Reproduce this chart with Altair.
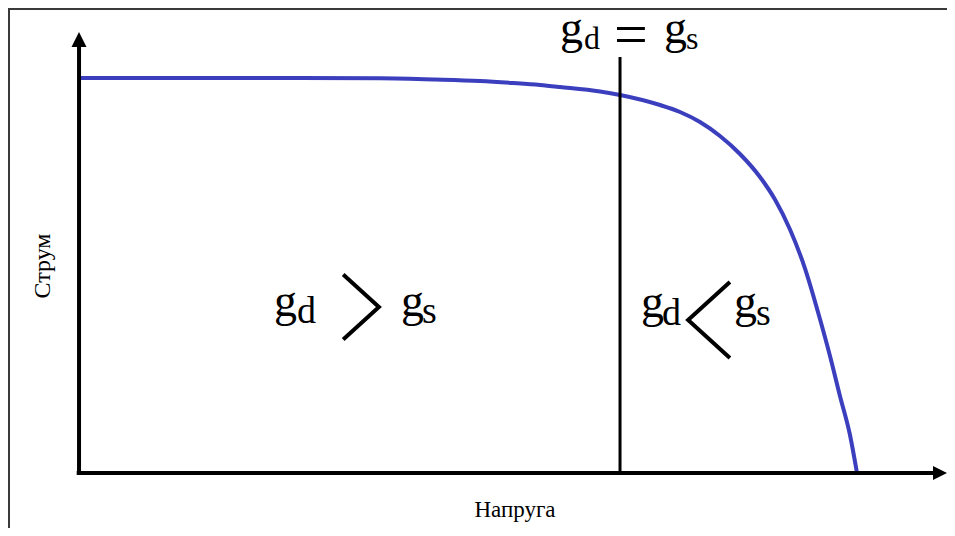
import altair as alt
import pandas as pd

# I-V curve (normalised voltage, normalised current)
volt = [0.0, 0.2841, 0.3869, 0.4576, 0.5154, 0.5578, 0.5925, 0.6183, 0.6697,
        0.6954, 0.7468, 0.7725, 0.7982, 0.8239, 0.8496, 0.8753, 0.8946, 0.9139,
        0.9332, 0.9524, 0.9653, 0.9781, 0.9910, 1.0]
curr = [1.0, 1.0, 0.9992, 0.9962, 0.9924, 0.9873, 0.9823, 0.9772, 0.9658,
        0.9570, 0.9316, 0.9139, 0.8886, 0.8532, 0.8076, 0.7494, 0.6924, 0.6165,
        0.5177, 0.3899, 0.2962, 0.1949, 0.0962, 0.0]

# operating point where gd = gs
v_mark = 0.6954
i_mark_top = 1.0532

# axis extents (arrow tips)
x_tip = 1.1157
y_tip = 1.1165

# labels
lbl_text = ["g", "d", "=", "g", "s",
            "g", "d", "g", "s",
            "g", "d", "g", "s"]
lbl_v = [0.6183, 0.6491, 0.7095, 0.7519, 0.7802,
         0.2506, 0.2802, 0.4139, 0.4409,
         0.7224, 0.7494, 0.8419, 0.8702]
lbl_i = [1.0886, 1.0734, 1.0608, 1.0886, 1.0734,
         0.3975, 0.3797, 0.3975, 0.3797,
         0.3949, 0.3747, 0.3949, 0.3747]
lbl_size = [46, 32, 60, 46, 32,
            46, 38, 46, 38,
            46, 38, 46, 38]
lbl_align = ["left", "left", "center", "left", "left",
             "left", "left", "left", "left",
             "left", "left", "left", "left"]

# comparison signs (> and <) drawn as open chevrons
cmp_dir = ["gt", "lt"]
cmp_v = [0.3625, 0.8098]
cmp_i = [0.4203, 0.3873]

xs = alt.Scale(domain=[-0.0913, 1.1157], nice=False, zero=False)
ys = alt.Scale(domain=[-0.1392, 1.1772], nice=False, zero=False)

W, H = 939, 520

curve_df = pd.DataFrame({"v": volt, "i": curr})
lbl_df = pd.DataFrame({"t": lbl_text, "v": lbl_v, "i": lbl_i, "s": lbl_size, "a": lbl_align})
cmp_df = pd.DataFrame({"d": cmp_dir, "v": cmp_v, "i": cmp_i})

frame_top = alt.Chart(pd.DataFrame({"k": [0]})).mark_rule(color="#3a3a3a", strokeWidth=2).encode(
    x=alt.value(0), x2=alt.value(W), y=alt.value(1))
frame_left = alt.Chart(pd.DataFrame({"k": [0]})).mark_rule(color="#3a3a3a", strokeWidth=2).encode(
    x=alt.value(1), y=alt.value(0), y2=alt.value(H))

xaxis = alt.Chart(pd.DataFrame({"v": [-0.003], "v2": [x_tip - 0.010], "i": [0.0]})).mark_rule(
    color="black", strokeWidth=4).encode(
    x=alt.X("v:Q", scale=xs, axis=None), x2="v2:Q", y=alt.Y("i:Q", scale=ys, axis=None))
yaxis = alt.Chart(pd.DataFrame({"v": [0.0], "i": [-0.005], "i2": [y_tip - 0.02]})).mark_rule(
    color="black", strokeWidth=4).encode(
    x=alt.X("v:Q", scale=xs, axis=None), y=alt.Y("i:Q", scale=ys, axis=None), y2="i2:Q")

xarrow = alt.Chart(pd.DataFrame({"v": [x_tip], "i": [0.0]})).mark_point(
    shape="M0,0L-1,-0.5L-1,0.5Z", filled=True, color="black", opacity=1, size=784).encode(
    x=alt.X("v:Q", scale=xs, axis=None), y=alt.Y("i:Q", scale=ys, axis=None))
yarrow = alt.Chart(pd.DataFrame({"v": [0.0], "i": [y_tip]})).mark_point(
    shape="M0,0L-0.5,1L0.5,1Z", filled=True, color="black", opacity=1, size=900).encode(
    x=alt.X("v:Q", scale=xs, axis=None), y=alt.Y("i:Q", scale=ys, axis=None))

vline = alt.Chart(pd.DataFrame({"v": [v_mark], "i": [0.0], "i2": [i_mark_top]})).mark_rule(
    color="black", strokeWidth=3).encode(
    x=alt.X("v:Q", scale=xs, axis=None), y=alt.Y("i:Q", scale=ys, axis=None), y2="i2:Q")

curve = alt.Chart(curve_df).mark_line(color="#3b3fbd", strokeWidth=4, interpolate="monotone").encode(
    x=alt.X("v:Q", scale=xs, axis=None), y=alt.Y("i:Q", scale=ys, axis=None))

def label_layer(align):
    return alt.Chart(lbl_df).transform_filter(alt.datum.a == align).mark_text(
        font="Liberation Serif", color="black", align=align, baseline="alphabetic").encode(
        x=alt.X("v:Q", scale=xs, axis=None), y=alt.Y("i:Q", scale=ys, axis=None),
        text="t:N", size=alt.Size("s:Q", scale=None, legend=None))

gt_sign = alt.Chart(cmp_df).transform_filter(alt.datum.d == "gt").mark_point(
    shape="M-0.55,-1L0.55,0L-0.55,1", filled=False, color="black", opacity=1,
    strokeWidth=4, size=4225, strokeJoin="miter").encode(
    x=alt.X("v:Q", scale=xs, axis=None), y=alt.Y("i:Q", scale=ys, axis=None))
lt_sign = alt.Chart(cmp_df).transform_filter(alt.datum.d == "lt").mark_point(
    shape="M0.55,-1L-0.55,0L0.55,1", filled=False, color="black", opacity=1,
    strokeWidth=4, size=5776, strokeJoin="miter").encode(
    x=alt.X("v:Q", scale=xs, axis=None), y=alt.Y("i:Q", scale=ys, axis=None))

xlab = alt.Chart(pd.DataFrame({"t": ["Напруга"], "v": [0.5604], "i": [-0.1114]})).mark_text(
    font="Liberation Serif", fontSize=23, color="black", align="center", baseline="alphabetic").encode(
    x=alt.X("v:Q", scale=xs, axis=None), y=alt.Y("i:Q", scale=ys, axis=None), text="t:N")
ylab = alt.Chart(pd.DataFrame({"t": ["Струм"], "v": [-0.0373], "i": [0.5241]})).mark_text(
    font="Liberation Serif", fontSize=24, color="black", align="center", baseline="alphabetic",
    angle=270).encode(
    x=alt.X("v:Q", scale=xs, axis=None), y=alt.Y("i:Q", scale=ys, axis=None), text="t:N")

chart = alt.layer(
    frame_top, frame_left, curve, vline, xaxis, yaxis, xarrow, yarrow,
    label_layer("left"), label_layer("center"), gt_sign, lt_sign, xlab, ylab
).properties(
    width=W, height=H, padding=0, autosize=alt.AutoSizeParams(type="none"), background="white"
).configure_view(stroke=None)

chart.save("out.html", embed_options={"renderer": "svg", "actions": False})
